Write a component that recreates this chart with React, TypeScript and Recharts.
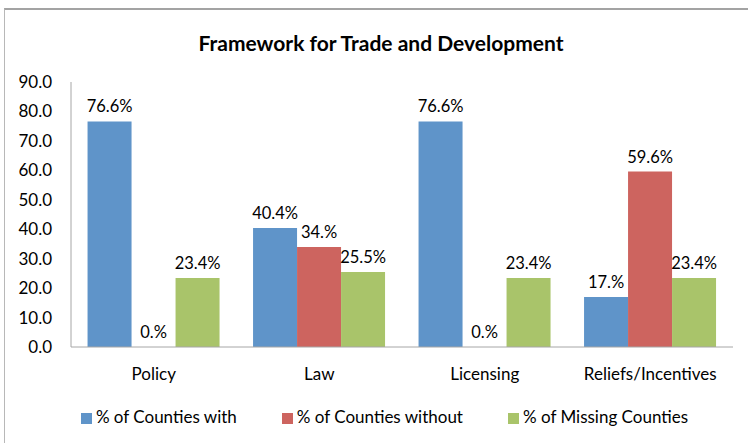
import { BarChart, Bar, XAxis, YAxis, Legend, LabelList } from "recharts";

const categories = ["Policy", "Law", "Licensing", "Reliefs/Incentives"];
const withValues = [76.6, 40.4, 76.6, 17];
const withoutValues = [0, 34, 0, 59.6];
const missingValues = [23.4, 25.5, 23.4, 23.4];
const yTicks = [0, 10, 20, 30, 40, 50, 60, 70, 80, 90];

const data = categories.map((name, i) => ({
  name,
  with: withValues[i],
  without: withoutValues[i],
  missing: missingValues[i],
}));

const font = "Lato, 'Open Sans', sans-serif";

// Excel style: 34 -> "34.%", 76.6 -> "76.6%"
const pct = (v: any) => Number(v).toFixed(1).replace(/0$/, "") + "%";

// zero bars would not get a label otherwise
const tinyForZero = (v: any) => (Number(v) === 0 ? 0.01 : 0);

export default function App() {
  return (
    <div style={{ position: "absolute", left: 0, top: 0, width: 748, height: 443, background: "#fff" }}>
      <div
        style={{
          position: "absolute",
          left: 4,
          top: 8,
          width: 760,
          height: 460,
          borderTop: "2px solid #a3a3a3",
          borderLeft: "1px solid #b8b8b8",
        }}
      />
      <BarChart
        width={748}
        height={443}
        data={data}
        margin={{ top: 82, right: 15, bottom: 16, left: 0 }}
        barCategoryGap="10%"
        barGap={0}
        style={{ fontFamily: font, position: "absolute", left: 0, top: 0 }}
      >
        <text x={381} y={51} textAnchor="middle" fontSize={21} fontWeight="bold" fill="#000">
          Framework for Trade and Development
        </text>
        <XAxis
          dataKey="name"
          height={59}
          tickLine={false}
          tickMargin={15}
          axisLine={{ stroke: "#a6a6a6" }}
          tick={{ fill: "#000", fontSize: 17 }}
        />
        <YAxis
          width={71}
          domain={[0, 90]}
          ticks={yTicks}
          interval={0}
          tickLine={false}
          tickMargin={13}
          axisLine={{ stroke: "#a6a6a6" }}
          tickFormatter={(v) => Number(v).toFixed(1)}
          tick={{ fill: "#000", fontSize: 17 }}
        />
        <Legend
          verticalAlign="bottom"
          iconType="square"
          iconSize={11}
          wrapperStyle={{ fontSize: 17, color: "#000", left: 23 }}
          formatter={(value, _entry, index) => (
            <span style={{ color: "#000", marginRight: index === 2 ? 0 : 35 }}>{value}</span>
          )}
        />
        <Bar dataKey="with" name="% of Counties with" fill="#5f94c9" isAnimationActive={false}>
          <LabelList dataKey="with" position="top" offset={9} formatter={pct} fill="#000" fontSize={16.5} />
        </Bar>
        <Bar
          dataKey="without"
          name="% of Counties without"
          fill="#cd645f"
          minPointSize={tinyForZero}
          isAnimationActive={false}
        >
          <LabelList dataKey="without" position="top" offset={9} formatter={pct} fill="#000" fontSize={16.5} />
        </Bar>
        <Bar dataKey="missing" name="% of Missing Counties" fill="#a9c46a" isAnimationActive={false}>
          <LabelList dataKey="missing" position="top" offset={9} formatter={pct} fill="#000" fontSize={16.5} />
        </Bar>
      </BarChart>
    </div>
  );
}
